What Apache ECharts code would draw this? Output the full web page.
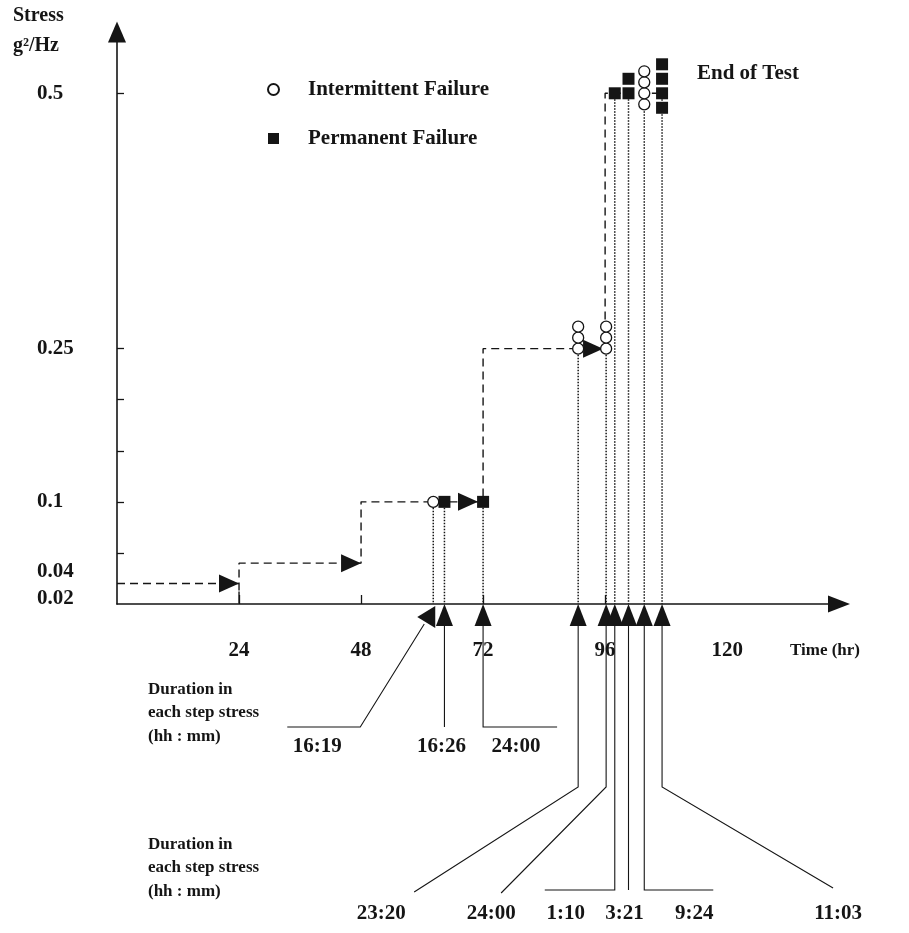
<!DOCTYPE html>
<html>
<head>
<meta charset="utf-8">
<script src="https://cdn.jsdelivr.net/npm/echarts@6/dist/echarts.min.js"></script>
<style>
html, body { margin: 0; padding: 0; background: #fff; }
#chart { width: 909px; height: 933px; }
</style>
</head>
<body>
<div id="chart"></div>
<script>
// step stress profile: start of each dwell (hr) and its level (g^2/Hz)
const stepStart = [0, 24, 48, 72, 96];
const stepLevel = [0.02, 0.04, 0.1, 0.25, 0.5];
// arrow tips drawn at the end of each dwell
const arrowTime = [24, 48, 71.0, 95.6];
const arrowLevel = [0.02, 0.04, 0.1, 0.25];

// failure columns: time, stress, type (I = intermittent, P = permanent), how many
const failTime   = [62.2, 64.4, 72.0, 90.7, 96.2, 97.9, 100.6, 103.7, 107.2];
const failStress = [0.1, 0.1, 0.1, 0.25, 0.25, 0.5, 0.5, 0.5, 0.5];
const failType   = ['I', 'P', 'P', 'I', 'I', 'P', 'P', 'I', 'P'];
const failCount  = [1, 1, 1, 3, 3, 1, 2, 4, 4];
// duration in the step stress, one per failure column
const durLabel   = ['16:19', '16:26', '24:00', '23:20', '24:00', '1:10', '3:21', '9:24', '11:03'];

const xLabels = [24, 48, 72, 96, 120];
const yLabels = [0.02, 0.04, 0.1, 0.25, 0.5];
const yTicks  = [0.05, 0.1, 0.15, 0.2, 0.25, 0.5];

// leader lines under the axis: x offsets from the arrow, y in px
const leaderLayout = [
  { pts: [[-9, 624], [-73, 727], [-146, 727]], text: [-116, 747], tilt: true },
  { pts: [[0, 625], [0, 727]], text: [-3, 747] },
  { pts: [[0, 625], [0, 727], [74, 727]], text: [33, 747] },
  { pts: [[0, 625], [0, 787], [-164, 892]], text: [-197, 914] },
  { pts: [[0, 625], [0, 787], [-105, 893]], text: [-115, 914] },
  { pts: [[0, 625], [0, 890], [-70, 890]], text: [-49, 914] },
  { pts: [[0, 625], [0, 890]], text: [-4, 914] },
  { pts: [[0, 625], [0, 890], [69, 890]], text: [50, 914] },
  { pts: [[0, 625], [0, 787], [171, 888]], text: [176, 914] }
];

const SERIF = '"Liberation Serif", "Times New Roman", serif';
const INK = '#151515';
const numFont = 'bold 21px ' + SERIF;

const profile = [[stepStart[0], stepLevel[0]]];
for (let i = 1; i < stepStart.length; i++) {
  profile.push([stepStart[i], stepLevel[i - 1]]);
  if (i === 1) profile.push([stepStart[i], 0]);
  profile.push([stepStart[i], stepLevel[i]]);
}
profile.push([failTime[failTime.length - 1], stepLevel[stepLevel.length - 1]]);

function stacked(type, spacing) {
  const out = [];
  failTime.forEach((t, i) => {
    if (failType[i] !== type) return;
    const n = failCount[i];
    const below = n > 3 ? 1 : 0;
    for (let k = 0; k < n; k++) {
      out.push({ value: [t, failStress[i]], symbolOffset: [0, (below - k) * spacing] });
    }
  });
  return out;
}

const chart = echarts.init(document.getElementById('chart'));

const option = {
  animation: false,
  backgroundColor: '#fff',
  grid: { left: 117, right: 70, top: 32, bottom: 329, containLabel: false, outerBoundsMode: 'none' },
  legend: {
    data: ['Intermittent Failure', 'Permanent Failure'],
    orient: 'vertical',
    left: 262,
    top: 74,
    itemWidth: 11,
    itemHeight: 11,
    itemGap: 28,
    textStyle: { fontFamily: SERIF, fontWeight: 'bold', fontSize: 21, color: INK, padding: [0, 0, 0, 24] }
  },
  xAxis: {
    type: 'value',
    min: 0,
    max: 142,
    name: 'Time (hr)',
    nameLocation: 'end',
    nameGap: -49,
    nameTextStyle: { fontFamily: SERIF, fontWeight: 'bold', fontSize: 17, color: INK, verticalAlign: 'top', padding: [38, 0, 0, 0] },
    axisLine: { lineStyle: { color: INK, width: 1.6 }, symbol: ['none', 'triangle'], symbolSize: [17, 22] },
    axisTick: { show: true, inside: true, length: 9, customValues: stepStart.slice(1), lineStyle: { color: INK, width: 1.3 } },
    axisLabel: { customValues: xLabels, margin: 36, fontFamily: SERIF, fontWeight: 'bold', fontSize: 21, color: INK },
    splitLine: { show: false }
  },
  yAxis: {
    type: 'value',
    min: 0,
    max: 0.56,
    axisLine: { show: true, lineStyle: { color: INK, width: 1.6 }, symbol: ['none', 'triangle'], symbolSize: [18, 21] },
    axisTick: { show: true, inside: true, length: 7, customValues: yTicks, lineStyle: { color: INK, width: 1.3 } },
    axisLabel: {
      customValues: yLabels,
      align: 'left',
      margin: 80,
      formatter: v => v === 0.02 ? '{lo|0.02}' : v === 0.04 ? '{mid|0.04}' : '{n|' + v + '}',
      rich: {
        n:   { fontFamily: SERIF, fontWeight: 'bold', fontSize: 21, color: INK },
        mid: { fontFamily: SERIF, fontWeight: 'bold', fontSize: 21, color: INK, padding: [16, 0, 0, 0] },
        lo:  { fontFamily: SERIF, fontWeight: 'bold', fontSize: 21, color: INK, padding: [30, 0, 0, 0] }
      }
    },
    splitLine: { show: false }
  },
  graphic: [
    { type: 'text', x: 13, y: 16, style: { text: 'Stress', font: 'bold 20px ' + SERIF, fill: INK, verticalAlign: 'middle' } },
    { type: 'text', x: 13, y: 46, style: { text: 'g²/Hz', font: 'bold 20px ' + SERIF, fill: INK, verticalAlign: 'middle' } },
    { type: 'text', x: 697, y: 74, style: { text: 'End of Test', font: 'bold 21px ' + SERIF, fill: INK, verticalAlign: 'middle' } },
    { type: 'text', x: 148, y: 690, style: { text: 'Duration in', font: 'bold 17px ' + SERIF, fill: INK, verticalAlign: 'middle' } },
    { type: 'text', x: 148, y: 713, style: { text: 'each step stress', font: 'bold 17px ' + SERIF, fill: INK, verticalAlign: 'middle' } },
    { type: 'text', x: 148, y: 737, style: { text: '(hh : mm)', font: 'bold 17px ' + SERIF, fill: INK, verticalAlign: 'middle' } },
    { type: 'text', x: 148, y: 845, style: { text: 'Duration in', font: 'bold 17px ' + SERIF, fill: INK, verticalAlign: 'middle' } },
    { type: 'text', x: 148, y: 868, style: { text: 'each step stress', font: 'bold 17px ' + SERIF, fill: INK, verticalAlign: 'middle' } },
    { type: 'text', x: 148, y: 892, style: { text: '(hh : mm)', font: 'bold 17px ' + SERIF, fill: INK, verticalAlign: 'middle' } }
  ],
  series: [
    {
      name: 'profile',
      type: 'line',
      data: profile,
      showSymbol: false,
      lineStyle: { color: INK, width: 1.4, type: [8, 5] },
      z: 2
    },
    {
      name: 'dwell end',
      type: 'scatter',
      data: arrowTime.map((t, i) => [t, arrowLevel[i]]),
      symbol: 'triangle',
      symbolSize: [18, 20],
      symbolRotate: -90,
      symbolOffset: [-10, 0],
      itemStyle: { color: INK, opacity: 1 },
      z: 4
    },
    {
      name: 'drop',
      type: 'custom',
      data: failTime.map((t, i) => [t, failStress[i]]),
      clip: false,
      renderItem: (params, api) => {
        const a = api.coord([api.value(0), api.value(1)]);
        const b = api.coord([api.value(0), 0]);
        return {
          type: 'line',
          shape: { x1: a[0], y1: a[1], x2: b[0], y2: b[1] },
          style: { stroke: INK, lineWidth: 1.5, lineDash: [1.5, 1.5] }
        };
      },
      z: 1
    },
    {
      name: 'leaders',
      type: 'custom',
      data: failTime.map(t => [t, 0]),
      clip: false,
      renderItem: (params, api) => {
        const L = leaderLayout[params.dataIndex];
        const x = api.coord([api.value(0), 0])[0];
        const children = [
          {
            type: 'polyline',
            shape: { points: L.pts.map(p => [x + p[0], p[1]]) },
            style: { stroke: INK, lineWidth: 1.1, fill: null }
          },
          {
            type: 'text',
            style: {
              text: durLabel[params.dataIndex], x: x + L.text[0], y: L.text[1],
              font: numFont, fill: INK, align: 'center', verticalAlign: 'middle'
            }
          }
        ];
        if (L.tilt) {
          children.push({
            type: 'polygon',
            shape: { points: [[x - 16, 617], [x + 2, 606], [x + 2, 628]] },
            style: { fill: INK }
          });
        }
        return { type: 'group', children: children };
      },
      z: 3
    },
    {
      name: 'axis arrows',
      type: 'scatter',
      data: failTime.filter((t, i) => !leaderLayout[i].tilt).map(t => [t, 0]),
      symbol: 'triangle',
      symbolSize: [17, 22],
      symbolOffset: [0, 11],
      itemStyle: { color: INK, opacity: 1 },
      clip: false,
      z: 4
    },
    {
      name: 'Intermittent Failure',
      type: 'scatter',
      data: stacked('I', 11),
      symbol: 'circle',
      symbolSize: 11,
      itemStyle: { color: '#fff', borderColor: INK, borderWidth: 1.3, opacity: 1 },
      z: 6
    },
    {
      name: 'Permanent Failure',
      type: 'scatter',
      data: stacked('P', 14.5),
      symbol: 'rect',
      symbolSize: 12,
      itemStyle: { color: INK, opacity: 1 },
      z: 6
    }
  ]
};

chart.setOption(option);
</script>
</body>
</html>
